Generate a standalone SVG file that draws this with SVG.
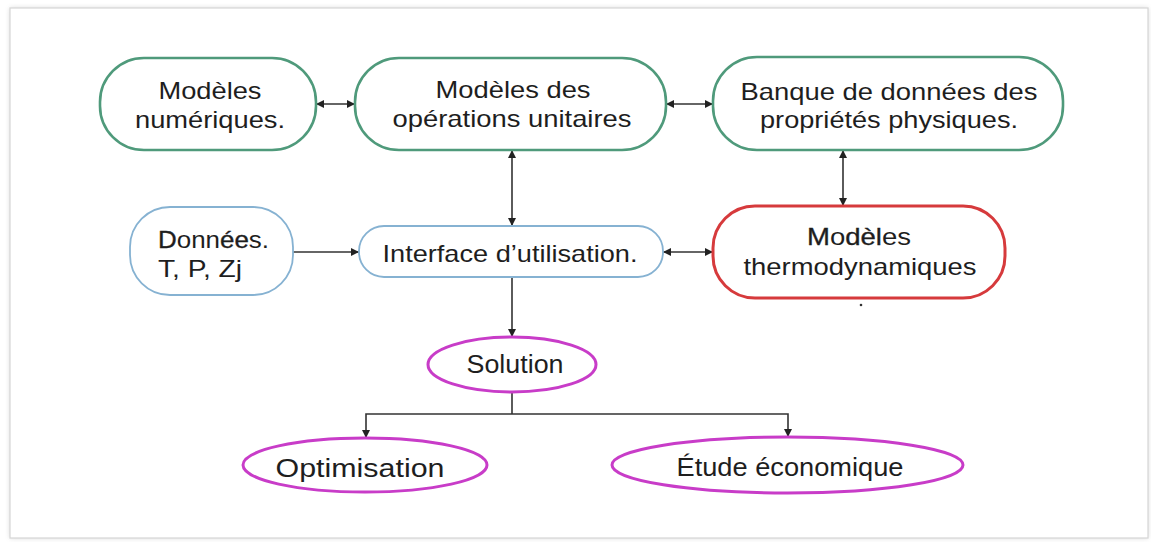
<svg xmlns="http://www.w3.org/2000/svg" width="1151" height="542" viewBox="0 0 1151 542">
<defs>
<filter id="sh" x="-5%" y="-5%" width="110%" height="110%">
<feGaussianBlur stdDeviation="2.5"/>
</filter>
<marker id="ah" viewBox="0 0 10 10" refX="10" refY="5" markerWidth="9" markerHeight="8" markerUnits="userSpaceOnUse" orient="auto-start-reverse">
<path d="M0,0 L10,5 L0,10 z" fill="#222"/>
</marker>
<style>
text{font-family:"Liberation Sans",Arial,sans-serif;fill:#1e1e1e;}
.c{text-anchor:middle;}
.g{fill:#fff;stroke:#4f9a7b;stroke-width:2.6;}
.r{fill:#fff;stroke:#d63a3c;stroke-width:3;}
.b{fill:#fff;stroke:#86b2d2;stroke-width:1.8;}
.m{fill:#fff;stroke:#c83cc8;stroke-width:3;}
.k{stroke:#1e1e1e;stroke-width:0.35;}
#connectors line,#connectors path{stroke:#333;stroke-width:1.6;fill:none;}
</style>
</defs>
<rect x="0" y="0" width="1151" height="542" fill="#fff"/>
<rect x="10" y="8" width="1138" height="530" fill="#888" opacity="0.35" filter="url(#sh)"/>
<rect x="10" y="8" width="1138" height="530" fill="#fff" stroke="#d6d6d6" stroke-width="1.2"/>

<g id="connectors">
<line x1="316" y1="104" x2="355" y2="104" marker-start="url(#ah)" marker-end="url(#ah)"/>
<line x1="666" y1="104" x2="713" y2="104" marker-start="url(#ah)" marker-end="url(#ah)"/>
<line x1="512" y1="150" x2="512" y2="226" marker-start="url(#ah)" marker-end="url(#ah)"/>
<line x1="843" y1="150" x2="843" y2="206" marker-start="url(#ah)" marker-end="url(#ah)"/>
<line x1="293" y1="252" x2="359" y2="252" marker-end="url(#ah)"/>
<line x1="663" y1="252" x2="713" y2="252" marker-start="url(#ah)" marker-end="url(#ah)"/>
<line x1="512" y1="277" x2="512" y2="337" marker-end="url(#ah)"/>
<path d="M512,392 V414"/>
<path d="M366,438 V414 H788 V437" marker-start="url(#ah)" marker-end="url(#ah)"/>
</g>

<g id="n1">
<rect class="g" x="100" y="58" width="216" height="92" rx="44"/>
<text class="c" x="210" y="99" font-size="24" textLength="103" lengthAdjust="spacingAndGlyphs">Modèles</text>
<text class="c" x="210" y="128" font-size="24" textLength="150" lengthAdjust="spacingAndGlyphs">numériques.</text>
</g>
<g id="n2">
<rect class="g" x="355" y="58" width="311" height="92" rx="44"/>
<text class="c" x="513" y="98" font-size="24" textLength="155" lengthAdjust="spacingAndGlyphs">Modèles des</text>
<text class="c" x="512" y="127" font-size="24" textLength="239" lengthAdjust="spacingAndGlyphs">opérations unitaires</text>
</g>
<g id="n3">
<rect class="g" x="713" y="57" width="350" height="93" rx="44"/>
<text class="c" x="889" y="100" font-size="24" textLength="297" lengthAdjust="spacingAndGlyphs">Banque de données des</text>
<text class="c" x="889" y="128" font-size="24" textLength="258" lengthAdjust="spacingAndGlyphs">propriétés physiques.</text>
</g>
<g id="n4">
<rect class="r" x="713" y="206" width="292" height="92" rx="42"/>
<text class="c" x="859" y="245" font-size="24" textLength="104" lengthAdjust="spacingAndGlyphs"><tspan class="k">M</tspan>o<tspan class="k">dèl</tspan>es</text>
<text class="c" x="860" y="275" font-size="24" textLength="233" lengthAdjust="spacingAndGlyphs">thermodynamiques</text>
<circle cx="861" cy="305" r="1.3" fill="#333"/>
</g>
<g id="n5">
<rect class="b" x="130" y="207" width="163" height="88" rx="40"/>
<text x="158" y="248" font-size="24" textLength="111" lengthAdjust="spacingAndGlyphs"><tspan class="k">D</tspan>onn<tspan class="k">ée</tspan>s.</text>
<text x="158" y="277" font-size="24" textLength="84" lengthAdjust="spacingAndGlyphs">T, P, Zj</text>
</g>
<g id="n6">
<rect class="b" x="359" y="226" width="304" height="51" rx="25"/>
<text class="c" x="510" y="262" font-size="24" textLength="255" lengthAdjust="spacingAndGlyphs">Interface d’utilisation.</text>
</g>
<g id="n7">
<ellipse class="m" cx="512" cy="364.5" rx="84" ry="27.5"/>
<text class="c" x="515" y="373" font-size="25" textLength="97" lengthAdjust="spacingAndGlyphs">Solution</text>
</g>
<g id="n8">
<ellipse class="m" cx="365" cy="465" rx="122" ry="27"/>
<text class="c" x="360" y="477" font-size="25" textLength="169" lengthAdjust="spacingAndGlyphs">Optimisation</text>
</g>
<g id="n9">
<ellipse class="m" cx="787.5" cy="465" rx="175.5" ry="28"/>
<text class="c" x="790" y="476" font-size="25" textLength="227" lengthAdjust="spacingAndGlyphs">Étude économique</text>
</g>
</svg>
